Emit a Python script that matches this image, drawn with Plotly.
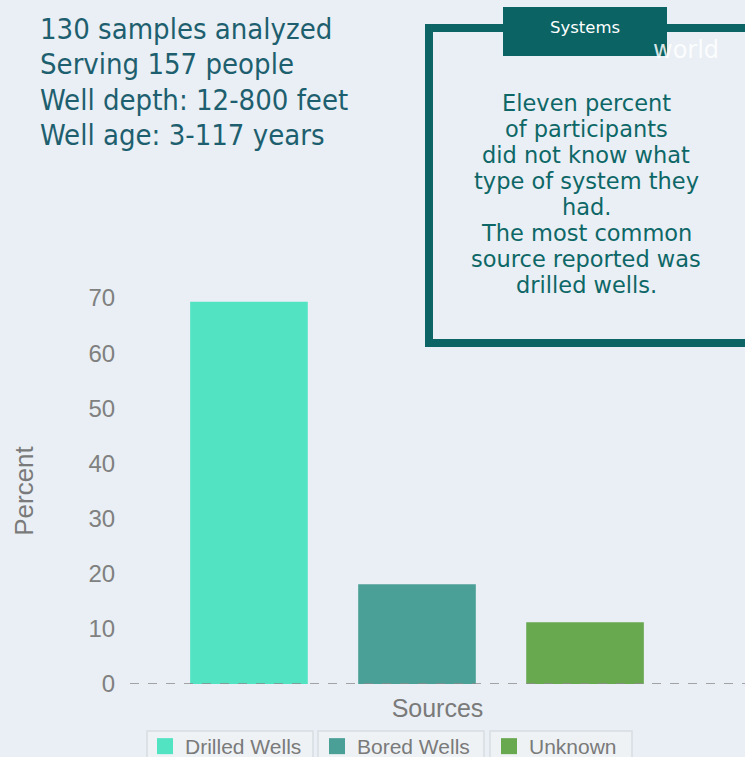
import plotly.graph_objects as go

# ---- data ----
categories = ["Drilled Wells", "Bored Wells", "Unknown"]
percent = [69.3, 18.1, 11.2]
colors = ["#52e3c2", "#4aa096", "#68a84f"]
header_lines = ["130 samples analyzed", "Serving 157 people",
                "Well depth: 12-800 feet", "Well age: 3-117 years"]
box_title = "Systems"
box_lines = ["Eleven percent", "of participants", "did not know what",
             "type of system they", "had.", "The most common",
             "source reported was", "drilled wells."]

W, H = 745, 757
L, R, T, B = 130, 745, 298, 684


def xp(px):
    return (px - L) / (R - L)


def yp(py):
    return (B - py) / (B - T)


fig = go.Figure()
for cat, val, col in zip(categories, percent, colors):
    fig.add_trace(go.Bar(x=[cat], y=[val], name=cat, marker_color=col,
                         marker_line_width=0, width=0.7, showlegend=False))
    fig.add_trace(go.Scatter(x=[None], y=[None], mode="markers", name=cat,
                             marker=dict(symbol="square", size=16, color=col),
                             showlegend=True))

shapes = []
# dashed baseline
shapes.append(dict(type="line", xref="paper", yref="y", x0=0, x1=1, y0=0, y1=0,
                   line=dict(color="#8a8a8a", width=1.5, dash="dash"), layer="above"))
# info box
shapes.append(dict(type="rect", xref="paper", yref="paper",
                   x0=xp(429), x1=xp(752), y0=yp(28), y1=yp(343),
                   line=dict(color="#0d6464", width=8), fillcolor="rgba(0,0,0,0)"))
shapes.append(dict(type="rect", xref="paper", yref="paper",
                   x0=xp(503), x1=xp(667), y0=yp(7), y1=yp(56),
                   line=dict(width=0), fillcolor="#0b6363"))
# legend item frames
for a, b in [(147, 313), (318, 484), (490, 632)]:
    shapes.append(dict(type="rect", xref="paper", yref="paper",
                       x0=xp(a), x1=xp(b), y0=yp(731), y1=yp(762),
                       line=dict(color="#d8dde2", width=1.5), fillcolor="#eef2f5",
                       layer="below"))

ann = []
for i, t in enumerate(header_lines):
    ann.append(dict(text=t, xref="paper", yref="paper", x=xp(38), y=yp(29 + 35.3 * i),
                    xanchor="left", yanchor="middle", showarrow=False,
                    font=dict(family="DejaVu Sans Condensed, DejaVu Sans", size=29,
                              color="#1e5f6f")))
ann.append(dict(text="world", xref="paper", yref="paper", x=xp(686), y=yp(50),
                xanchor="center", yanchor="middle", showarrow=False,
                font=dict(family="DejaVu Sans", size=24, color="rgba(255,255,255,0.85)")))
ann.append(dict(text=box_title, xref="paper", yref="paper", x=xp(585), y=yp(27),
                xanchor="center", yanchor="middle", showarrow=False,
                font=dict(family="DejaVu Sans", size=16.5, color="white")))
for i, t in enumerate(box_lines):
    ann.append(dict(text=t, xref="paper", yref="paper", x=xp(586), y=yp(103 + 26 * i),
                    xanchor="center", yanchor="middle", showarrow=False,
                    font=dict(family="DejaVu Sans", size=22.5, color="#0e6767")))

fig.update_layout(
    width=W, height=H,
    margin=dict(l=L, r=W - R, t=T, b=H - B, autoexpand=False),
    paper_bgcolor="#e9eff4", plot_bgcolor="rgba(0,0,0,0)",
    barmode="overlay",
    xaxis=dict(range=[-0.708, 2.952], showticklabels=False, showgrid=False,
               zeroline=False, showline=False, ticks="",
               title=dict(text="Sources", standoff=15,
                          font=dict(family="Liberation Sans", size=25, color="#7a7a7a"))),
    yaxis=dict(range=[0, 70], dtick=10, showgrid=False, zeroline=False, showline=False,
               ticks="outside", ticklen=9, tickcolor="rgba(0,0,0,0)",
               tickfont=dict(family="Liberation Sans", size=24, color="#808080"),
               title=dict(text="Percent", standoff=47,
                          font=dict(family="Liberation Sans", size=26, color="#7a7a7a"))),
    legend=dict(orientation="h", x=xp(145), xanchor="left", y=yp(726), yanchor="top",
                bgcolor="rgba(0,0,0,0)", font=dict(family="Liberation Sans", size=21, color="#7a7a7a"),
                entrywidth=127, entrywidthmode="pixels", traceorder="normal"),
    shapes=shapes, annotations=ann,
)

fig.write_html("out.html", config={"displayModeBar": False},
               post_script="document.body.style.margin='0';")
